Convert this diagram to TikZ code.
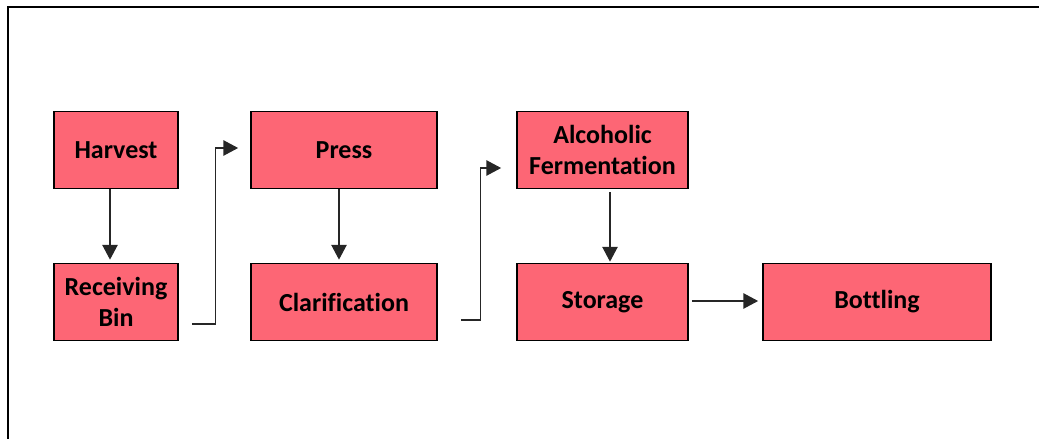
\documentclass[tikz,border=0pt]{standalone}
\usepackage{fontspec}
\setmainfont{Carlito}[Ligatures=NoCommon]
\usetikzlibrary{calc,arrows.meta}
\definecolor{boxred}{RGB}{253,102,117}

\begin{document}
\begin{tikzpicture}[x=0.75pt,y=-0.75pt,
	stepbox/.style={draw,line width=1.3pt,fill=boxred,minimum height=57.75pt,inner sep=0pt,align=center,font=\bfseries\fontsize{19.5}{23.25}\selectfont},
	conn/.style={draw=black!85,line width=0.8pt,-{Triangle[length=11pt,width=11.5pt]}}]
	\def\wone{93pt}		%width of first column (124px)
	\def\wtwo{139.5pt}	%width of second column (186px)
	\def\wthree{128.25pt}	%width of third column (171px)
	\def\wfour{171pt}	%width of last box (228px)
	\useasboundingbox (0,0) rectangle (1039,439);
	\draw[line width=1.5pt] (8,439) -- (8,7) -- (1039,7);	%frame, open at right and bottom

	\node[stepbox,minimum width=\wone] (harvest) at (116,150) {Harvest};
	\node[stepbox,minimum width=\wone] (recv) at (116,302) {Receiving\\Bin};
	\node[stepbox,minimum width=\wtwo] (press) at (344,150) {Press};
	\node[stepbox,minimum width=\wtwo] (clar) at (344,302) {Clarification};
	\node[stepbox,minimum width=\wthree] (ferm) at (602.5,150) {Alcoholic\\Fermentation};
	\node[stepbox,minimum width=\wthree] (stor) at (602.5,302) {Storage};
	\node[stepbox,minimum width=\wfour] (bott) at (877,302) {Bottling};

	\draw[conn] ($(harvest.south)+(-6,0)$) -- ($(recv.north)+(-6,-3)$);
	\draw[conn] ($(recv.east)+(13,22)$) -| ($(press.west)+(-35,-2)$) -- ($(press.west)+(-12,-2)$);	%up to press
	\draw[conn] ($(press.south)+(-5,0)$) -- ($(clar.north)+(-5,-3)$);
	\draw[conn] ($(clar.east)+(23,18)$) -| ($(ferm.west)+(-36,18)$) -- ($(ferm.west)+(-15,18)$);	%up to fermentation
	\draw[conn] ($(ferm.south)+(7.5,3)$) -- ($(stor.north)+(7.5,-1)$);
	\draw[conn] ($(stor.east)+(3,-1)$) -- ($(bott.west)+(-4,-1)$);
\end{tikzpicture}
\end{document}
